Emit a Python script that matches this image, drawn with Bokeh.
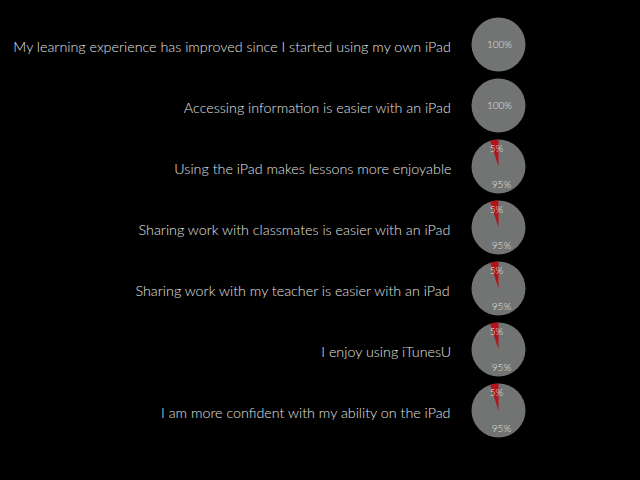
import math
from bokeh.plotting import figure
from bokeh.models import ColumnDataSource, Range1d
from bokeh.core.properties import value
from bokeh.embed import file_html
from bokeh.resources import INLINE

statements = [
    "My learning experience has improved since I started using my own iPad",
    "Accessing information is easier with an iPad",
    "Using the iPad makes lessons more enjoyable",
    "Sharing work with classmates is easier with an iPad",
    "Sharing work with my teacher is easier with an iPad",
    "I enjoy using iTunesU",
    "I am more confident with my ability on the iPad",
]
agree = [100, 100, 95, 95, 95, 95, 95]
disagree = [0, 0, 5, 5, 5, 5, 5]

n = len(statements)
rows = [n - 1 - i for i in range(n)]

GRAY = "#717473"
RED = "#b3131a"
TXT = "#e2e2e2"
FONT = value("Lato Light, Lato")

p = figure(width=624, height=464, output_backend="svg", toolbar_location=None,
           x_range=Range1d(0, 624), y_range=Range1d(-0.886, 6.721),
           min_border=0, background_fill_color="black", border_fill_color="black",
           outline_line_color=None)
p.axis.visible = False
p.grid.visible = False

PIE_X = 498

base = ColumnDataSource(dict(
    x=[PIE_X] * n, y=rows, label=statements, agree=agree, disagree=disagree,
))
p.scatter(x="x", y="y", source=base, size=54, marker="circle",
          fill_color=GRAY, line_color=None)

# red wedges for the disagree share, starting at 12 o'clock, anticlockwise
wx, wy, ws, we = [], [], [], []
for r, d in zip(rows, disagree):
    if d > 0:
        wx.append(PIE_X)
        wy.append(r)
        ws.append(math.pi / 2)
        we.append(math.pi / 2 + 2 * math.pi * d / 100.0)
wsrc = ColumnDataSource(dict(x=wx, y=wy, s=ws, e=we))
p.wedge(x="x", y="y", radius=27, radius_units="screen", start_angle="s",
        end_angle="e", direction="anticlock", source=wsrc,
        fill_color=RED, line_color=None)

# statement labels
p.text(x=451, y="y", text="label", source=base, text_align="right",
       text_baseline="middle", text_font=FONT, text_font_size="14.3px",
       text_color=TXT, y_offset=2)

# percentage labels
full = ColumnDataSource(dict(
    x=[PIE_X for a in agree if a == 100],
    y=[r for r, a in zip(rows, agree) if a == 100],
    t=["%d%%" % a for a in agree if a == 100],
))
p.text(x="x", y="y", text="t", source=full, text_align="center",
       text_baseline="middle", text_font=FONT, text_font_size="10px",
       text_color=TXT, x_offset=1)

part_rows = [r for r, a in zip(rows, agree) if a < 100]
top = ColumnDataSource(dict(
    x=[PIE_X] * len(part_rows), y=part_rows,
    t=["%d%%" % d for d, a in zip(disagree, agree) if a < 100],
))
bot = ColumnDataSource(dict(
    x=[PIE_X] * len(part_rows), y=part_rows,
    t=["%d%%" % a for a in agree if a < 100],
))
p.text(x="x", y="y", text="t", source=top, text_align="center",
       text_baseline="middle", text_font=FONT, text_font_size="10px",
       text_color=TXT, x_offset=-2, y_offset=-18)
p.text(x="x", y="y", text="t", source=bot, text_align="center",
       text_baseline="middle", text_font=FONT, text_font_size="10px",
       text_color=TXT, x_offset=3, y_offset=18)

html = file_html(p, INLINE)
html = html.replace("<body>", '<body style="background:#000000;">', 1)
html = html.replace("<html", '<html style="background:#000000;"', 1)
open("out.html", "w").write(html)
